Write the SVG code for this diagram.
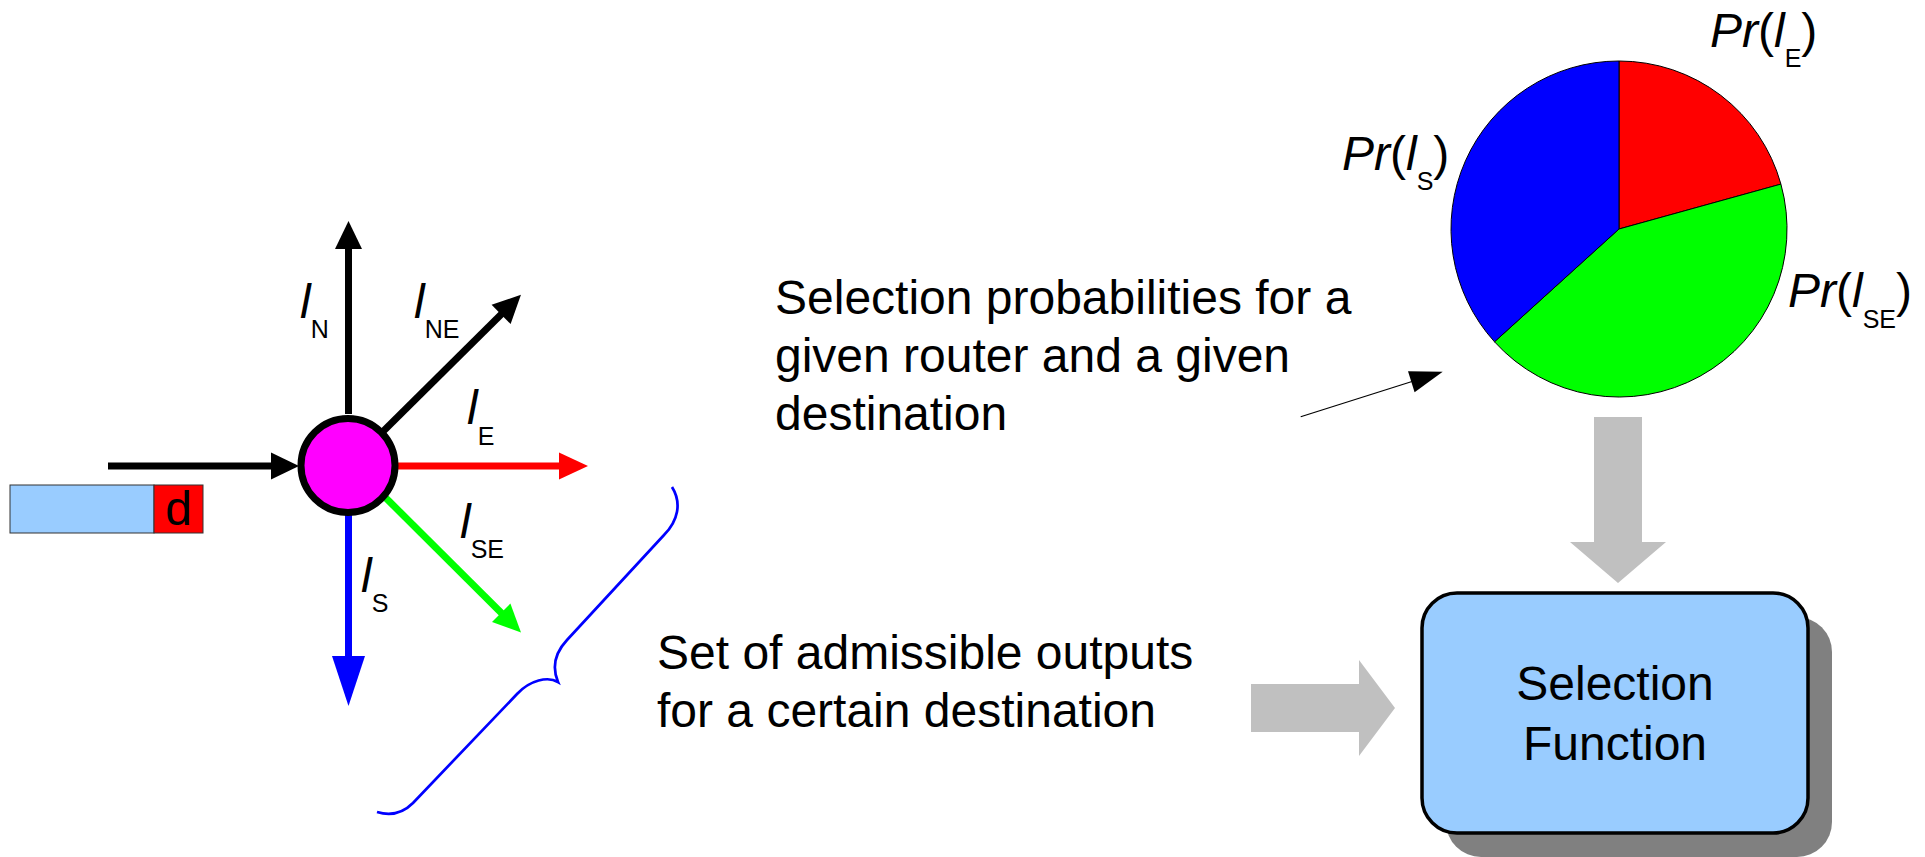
<svg xmlns="http://www.w3.org/2000/svg" width="1925" height="857" viewBox="0 0 1925 857">
<defs>
<marker id="ahBlack" markerUnits="userSpaceOnUse" markerWidth="30" markerHeight="28" refX="1" refY="13.5" orient="auto" overflow="visible"><path d="M0,0 L28,13.5 L0,27 z" fill="#000"/></marker>
<marker id="ahRed" markerUnits="userSpaceOnUse" markerWidth="30" markerHeight="28" refX="1" refY="13.5" orient="auto" overflow="visible"><path d="M0,0 L29,13.5 L0,27 z" fill="#ff0000"/></marker>
<marker id="ahGreen" markerUnits="userSpaceOnUse" markerWidth="30" markerHeight="28" refX="1" refY="13" orient="auto" overflow="visible"><path d="M0,0 L28,13 L0,26 z" fill="#00ff00"/></marker>
<marker id="ahBlue" markerUnits="userSpaceOnUse" markerWidth="52" markerHeight="34" refX="1" refY="16.5" orient="auto" overflow="visible"><path d="M0,0 L50,16.5 L0,33 z" fill="#0000ff"/></marker>
</defs>
<style>
text { font-family: "Liberation Sans", Arial, sans-serif; fill: #000; }
.lbl { font-size: 48px; }
.it { font-style: italic; }
.sub { font-size: 25px; font-style: normal; }
.mid { text-anchor: middle; }
.thick { stroke-width: 7; fill: none; }
.gray { fill: #c0c0c0; }
.slice { stroke: #000; stroke-width: 1; }
</style>
<rect width="1925" height="857" fill="#fff"/>

<g id="connectors">
  <line class="thick" x1="108" y1="466" x2="272" y2="466" stroke="#000" marker-end="url(#ahBlack)"/>
  <line class="thick" x1="348.5" y1="414" x2="348.5" y2="248" stroke="#000" marker-end="url(#ahBlack)"/>
  <line class="thick" x1="383" y1="431.5" x2="501.8" y2="313.7" stroke="#000" marker-end="url(#ahBlack)"/>
  <line class="thick" x1="397" y1="466" x2="560" y2="466" stroke="#ff0000" marker-end="url(#ahRed)"/>
  <line class="thick" x1="384.6" y1="496.7" x2="501.9" y2="613.5" stroke="#00ff00" marker-end="url(#ahGreen)"/>
  <line class="thick" x1="348.5" y1="514" x2="348.5" y2="657" stroke="#0000ff" marker-end="url(#ahBlue)"/>
  <line x1="1300.7" y1="416.7" x2="1412" y2="381.5" stroke="#000" stroke-width="1.2"/>
  <polygon points="1442.7,371.7 1408,371.2 1414.6,392.2" fill="#000"/>
  <polygon class="gray" points="1594,417 1642,417 1642,542 1666,542 1618,583 1570,542 1594,542"/>
  <polygon class="gray" points="1251,684 1359,684 1359,660 1395,708 1359,756 1359,732 1251,732"/>
</g>

<g id="packet">
  <rect x="10" y="485" width="144" height="48" fill="#99ccff" stroke="#333" stroke-width="1"/>
  <rect x="154" y="485" width="49" height="48" fill="#ff0000" stroke="#333" stroke-width="1"/>
  <text class="lbl mid" x="178.5" y="525">d</text>
</g>

<g id="router">
  <circle cx="348" cy="465.5" r="47" fill="#ff00ff" stroke="#000" stroke-width="7"/>
</g>

<g id="labels">
  <text class="lbl it" x="300" y="318">l<tspan class="sub" dy="20">N</tspan></text>
  <text class="lbl it" x="414" y="318">l<tspan class="sub" dy="20">NE</tspan></text>
  <text class="lbl it" x="467" y="424">l<tspan class="sub" dy="21">E</tspan></text>
  <text class="lbl it" x="460" y="538">l<tspan class="sub" dy="20">SE</tspan></text>
  <text class="lbl it" x="361" y="592">l<tspan class="sub" dy="20">S</tspan></text>
</g>

<g id="brace">
  <path d="M672,487 C682,503 678,521 664,535 L567,640 C553,655 553,670 558,682 C548,676 530,680 517,694 L413,803 C403,813 390,816 377,812" fill="none" stroke="#0000ff" stroke-width="2.7"/>
</g>

<g id="text-probabilities">
  <text class="lbl" x="775" y="314">Selection probabilities for a</text>
  <text class="lbl" x="775" y="372">given router and a given</text>
  <text class="lbl" x="775" y="430">destination</text>
</g>

<g id="text-admissible">
  <text class="lbl" x="657" y="669">Set of admissible outputs</text>
  <text class="lbl" x="657" y="727">for a certain destination</text>
</g>

<g id="pie">
  <path class="slice" d="M1619,229 L1619,61 A168,168 0 0 1 1780.9,184.1 Z" fill="#ff0000"/>
  <path class="slice" d="M1619,229 L1780.9,184.1 A168,168 0 0 1 1494.5,341.8 Z" fill="#00ff00"/>
  <path class="slice" d="M1619,229 L1494.5,341.8 A168,168 0 0 1 1619,61 Z" fill="#0000ff"/>
  <text class="lbl" x="1710" y="47"><tspan class="it">Pr</tspan>(<tspan class="it">l</tspan><tspan class="sub" dy="20">E</tspan><tspan dy="-20">)</tspan></text>
  <text class="lbl" x="1342" y="170"><tspan class="it">Pr</tspan>(<tspan class="it">l</tspan><tspan class="sub" dy="20">S</tspan><tspan dy="-20">)</tspan></text>
  <text class="lbl" x="1788" y="307"><tspan class="it">Pr</tspan>(<tspan class="it">l</tspan><tspan class="sub" dy="21">SE</tspan><tspan dy="-21">)</tspan></text>
</g>

<g id="selection-function">
  <rect x="1446" y="617" width="386" height="240" rx="35" fill="#808080"/>
  <rect x="1422" y="593" width="386" height="240" rx="35" fill="#99ccff" stroke="#000" stroke-width="3.5"/>
  <text class="lbl mid" x="1615" y="700">Selection</text>
  <text class="lbl mid" x="1615" y="760">Function</text>
</g>
</svg>
